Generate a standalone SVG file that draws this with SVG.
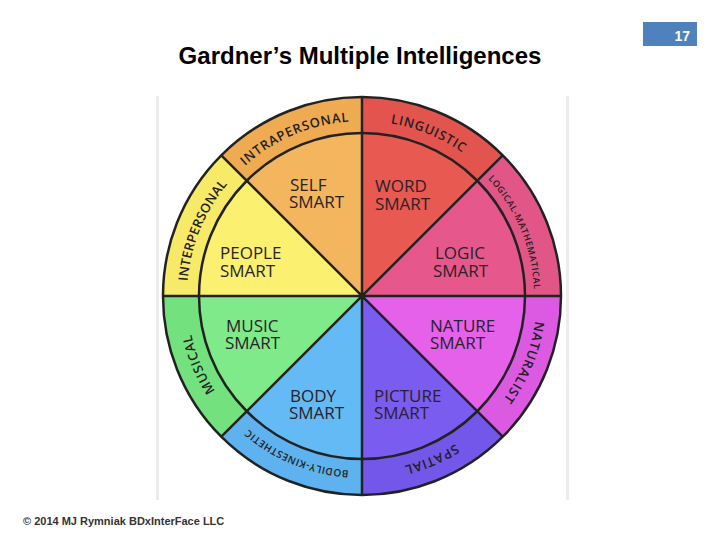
<svg xmlns="http://www.w3.org/2000/svg" width="720" height="540" viewBox="0 0 720 540">
<style>
.t{font-family:"Liberation Sans",Arial,sans-serif;font-weight:bold}
.in{font-family:"Open Sans","DejaVu Sans",sans-serif;font-size:17px;font-weight:500;fill:#2a2228}
.rg{font-family:"Open Sans","DejaVu Sans",sans-serif;font-size:13px;font-weight:600;fill:#241f22;letter-spacing:0.8px}
.ln{fill:none;stroke:#222;stroke-width:2.5}
</style>
<defs>
<path id="ring" d="M362 121 A175 175 0 1 1 362 471 A175 175 0 1 1 362 121"/>
<path id="ring2" d="M362 124 A172 172 0 1 1 362 468 A172 172 0 1 1 362 124"/>
</defs>
<rect width="720" height="540" fill="#fff"/>
<rect x="156" y="96" width="3" height="404" fill="#ececec"/>
<rect x="566" y="96" width="3" height="404" fill="#ececec"/>
<rect x="643" y="22" width="54" height="24" fill="#4f81bd"/>
<text class="t" x="690" y="41" font-size="14" fill="#fff" text-anchor="end">17</text>
<text class="t" x="360" y="64" font-size="24" fill="#000" text-anchor="middle">Gardner’s Multiple Intelligences</text>
<text class="t" x="23" y="525" font-size="11" fill="#333">© 2014 MJ Rymniak BDxInterFace LLC</text>

<g id="self">
<path d="M362 296 L362 133 A163 163 0 0 0 246.7 180.7 Z" fill="#f3b55d"/>
<path d="M221.3 155.3 A199 199 0 0 1 362 97 L362 133 A163 163 0 0 0 246.7 180.7 Z" fill="#eeab52"/>
<text class="in" x="290" y="191">SELF</text>
<text class="in" x="289" y="208">SMART</text>
<text class="rg"><textPath href="#ring" startOffset="93.6%" text-anchor="middle">INTRAPERSONAL</textPath></text>
</g>
<g id="word">
<path d="M362 296 L362 133 A163 163 0 0 1 477.3 180.7 Z" fill="#e85952"/>
<path d="M362 97 A199 199 0 0 1 502.7 155.3 L477.3 180.7 A163 163 0 0 0 362 133 Z" fill="#e4544f"/>
<text class="in" x="375" y="192">WORD</text>
<text class="in" x="375" y="210">SMART</text>
<text class="rg"><textPath href="#ring" startOffset="6.2%" text-anchor="middle">LINGUISTIC</textPath></text>
</g>
<g id="logic">
<path d="M362 296 L477.3 180.7 A163 163 0 0 1 525 296 Z" fill="#e6588b"/>
<path d="M502.7 155.3 A199 199 0 0 1 561 296 L525 296 A163 163 0 0 0 477.3 180.7 Z" fill="#e25687"/>
<text class="in" x="435" y="259">LOGIC</text>
<text class="in" x="433" y="277">SMART</text>
<text class="rg" style="font-size:9px;letter-spacing:0.6px"><textPath href="#ring2" startOffset="18.75%" text-anchor="middle">LOGICAL-MATHEMATICAL</textPath></text>
</g>
<g id="nature">
<path d="M362 296 L525 296 A163 163 0 0 1 477.3 411.3 Z" fill="#e561ea"/>
<path d="M561 296 A199 199 0 0 1 502.7 436.7 L477.3 411.3 A163 163 0 0 0 525 296 Z" fill="#dc5ae2"/>
<text class="in" x="430" y="332">NATURE</text>
<text class="in" x="430" y="349">SMART</text>
<text class="rg"><textPath href="#ring" startOffset="31.2%" text-anchor="middle">NATURALIST</textPath></text>
</g>
<g id="picture">
<path d="M362 296 L477.3 411.3 A163 163 0 0 1 362 459 Z" fill="#7b5cf1"/>
<path d="M502.7 436.7 A199 199 0 0 1 362 495 L362 459 A163 163 0 0 0 477.3 411.3 Z" fill="#7257ea"/>
<text class="in" x="374" y="402">PICTURE</text>
<text class="in" x="374" y="419">SMART</text>
<text class="rg"><textPath href="#ring" startOffset="43.6%" text-anchor="middle">SPATIAL</textPath></text>
</g>
<g id="body">
<path d="M362 296 L362 459 A163 163 0 0 1 246.7 411.3 Z" fill="#64baf5"/>
<path d="M362 495 A199 199 0 0 1 221.3 436.7 L246.7 411.3 A163 163 0 0 0 362 459 Z" fill="#5db2ef"/>
<text class="in" x="290" y="402">BODY</text>
<text class="in" x="289" y="419">SMART</text>
<text class="rg" style="font-size:10px;letter-spacing:0.5px"><textPath href="#ring" startOffset="56.25%" text-anchor="middle">BODILY-KINESTHETIC</textPath></text>
</g>
<g id="music">
<path d="M362 296 L246.7 411.3 A163 163 0 0 1 199 296 Z" fill="#7eea89"/>
<path d="M221.3 436.7 A199 199 0 0 1 163 296 L199 296 A163 163 0 0 0 246.7 411.3 Z" fill="#74e17f"/>
<text class="in" x="226" y="332">MUSIC</text>
<text class="in" x="225" y="349">SMART</text>
<text class="rg"><textPath href="#ring" startOffset="68.7%" text-anchor="middle">MUSICAL</textPath></text>
</g>
<g id="people">
<path d="M362 296 L199 296 A163 163 0 0 1 246.7 180.7 Z" fill="#fcf070"/>
<path d="M163 296 A199 199 0 0 1 221.3 155.3 L246.7 180.7 A163 163 0 0 0 199 296 Z" fill="#f7ea68"/>
<text class="in" x="220" y="259">PEOPLE</text>
<text class="in" x="220" y="277">SMART</text>
<text class="rg" style="letter-spacing:0.2px"><textPath href="#ring" startOffset="81.2%" text-anchor="middle">INTERPERSONAL</textPath></text>
</g>

<g id="connectors">
<circle class="ln" cx="362" cy="296" r="163"/>
<circle class="ln" cx="362" cy="296" r="199" stroke-width="3"/>
<path class="ln" d="M362 97 L362 495 M163 296 L561 296 M221.3 155.3 L502.7 436.7 M502.7 155.3 L221.3 436.7"/>
<circle cx="362" cy="296" r="3" fill="#222"/>
</g>
</svg>
